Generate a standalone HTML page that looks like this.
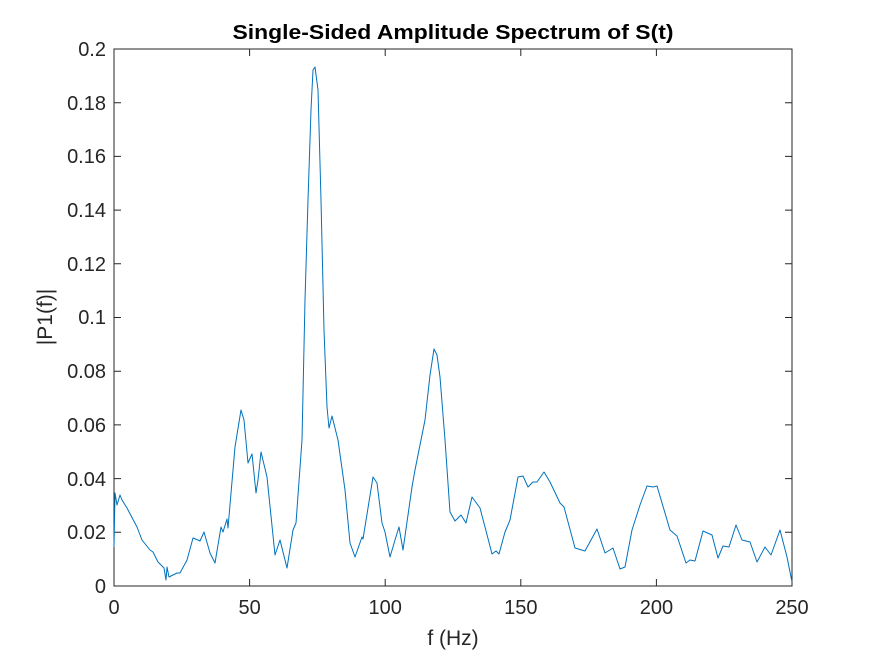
<!DOCTYPE html>
<html><head><style>body{margin:0;background:#fff}svg{display:block}</style></head><body>
<svg width="875" height="656" xmlns="http://www.w3.org/2000/svg" font-family="Liberation Sans, Arial, sans-serif">
<rect width="875" height="656" fill="#fff"/>
<rect x="114" y="49" width="678" height="537" fill="#fff" stroke="#262626" stroke-width="1"/>
<g stroke="#262626" stroke-width="1">
<line x1="249.6" y1="586" x2="249.6" y2="579"/><line x1="385.2" y1="586" x2="385.2" y2="579"/><line x1="520.8" y1="586" x2="520.8" y2="579"/><line x1="656.4" y1="586" x2="656.4" y2="579"/>
<line x1="249.6" y1="49" x2="249.6" y2="56"/><line x1="385.2" y1="49" x2="385.2" y2="56"/><line x1="520.8" y1="49" x2="520.8" y2="56"/><line x1="656.4" y1="49" x2="656.4" y2="56"/>
<path d="M114 532.3h7M114 478.6h7M114 424.9h7M114 371.2h7M114 317.5h7M114 263.8h7M114 210.1h7M114 156.4h7M114 102.7h7M792 532.3h-7M792 478.6h-7M792 424.9h-7M792 371.2h-7M792 317.5h-7M792 263.8h-7M792 210.1h-7M792 156.4h-7M792 102.7h-7"/>
</g>
<g font-size="20" fill="#262626" text-anchor="end">
<text x="106" y="593">0</text><text x="106" y="539">0.02</text><text x="106" y="486">0.04</text><text x="106" y="432">0.06</text><text x="106" y="378">0.08</text><text x="106" y="324">0.1</text><text x="106" y="271">0.12</text><text x="106" y="217">0.14</text><text x="106" y="163">0.16</text><text x="106" y="110">0.18</text><text x="106" y="56">0.2</text>
</g>
<g font-size="20" fill="#262626" text-anchor="middle">
<text x="114" y="614">0</text><text x="249.6" y="614">50</text><text x="385.2" y="614">100</text><text x="520.8" y="614">150</text><text x="656.4" y="614">200</text><text x="792" y="614">250</text>
<text x="453" y="645" font-size="21">f (Hz)</text>
<text x="453" y="39" font-size="20" font-weight="bold" fill="#000" textLength="441" lengthAdjust="spacingAndGlyphs">Single-Sided Amplitude Spectrum of S(t)</text>
<text transform="translate(52,317) rotate(-90)" font-size="21">|P1(f)|</text>
</g>
<polyline fill="none" stroke="#0072BD" stroke-width="1" stroke-linejoin="round" points="114,547 115,493 117,505 120,495 122,500 127,508 137,527 142,540 150,550 153,552 158,562 164,568 166,580 167,567 169,577 177,573 180,573 187,560 193,538 198,540 200,541 204,532 210,553 215,563 221,527 223,532 227,519 228,528 235,447 241,410 244,420 248,463 252,454 256,493 258,480 261,452 267,477 275,555 280,540 287,568 293,530 296,523 302,440 305,300 308,200 311,110 313,70 315,67 318,90 321,200 324,330 327,407 329,428 332,416 338,440 345,490 350,543 355,557 362,537 363,539 373,477 377,483 382,523 385,532 390,557 395,540 399,527 403,550 412,487 415,470 425,420 430,375 434,349 437,355 440,377 445,440 450,512 455,521 461,515 466,523 472,497 480,508 485,527 492,554 496,551 499,554 505,532 510,520 518,477 523,476 528,487 533,482 537,482 544,472 550,482 560,503 564,507 575,548 585,551 597,529 605,553 613,548 620,569 625,567 632,530 640,505 647,486 653,487 657,486 670,530 677,536 686,563 690,560 695,561 703,531 712,535 718,558 723,546 729,547 736,525 742,540 750,542 757,562 765,547 771,555 780,530 787,557 792,582"/>
</svg>
</body></html>
